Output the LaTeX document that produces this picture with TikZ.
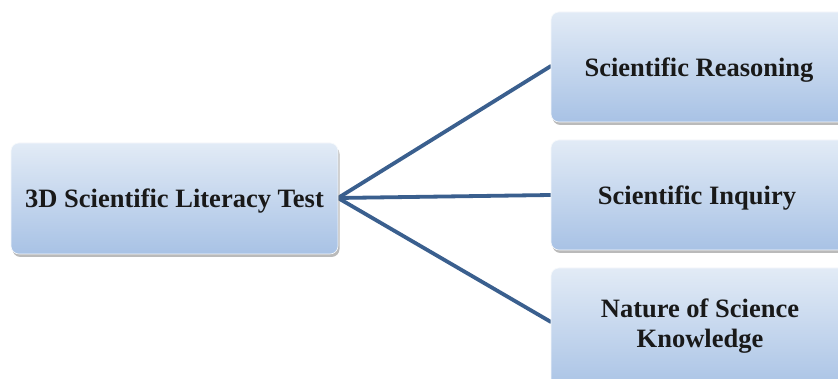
\documentclass[tikz,border=0pt]{standalone}
\usepackage{fontspec}
\setmainfont{Liberation Serif}
\usetikzlibrary{shadows}
\definecolor{boxtop}{HTML}{E2EBF6}
\definecolor{boxbot}{HTML}{A8C2E5}
\definecolor{linkc}{HTML}{3A5F8E}
\tikzset{
  box/.style={rounded corners=8pt, top color=boxtop, bottom color=boxbot,
    draw=white!90!boxbot, line width=0.6pt,
    drop shadow={shadow xshift=1.5pt, shadow yshift=-3pt, opacity=0.45, fill=black!60}},
  lbl/.style={font=\fontsize{26.5}{30}\selectfont\rmfamily\bfseries, text=black!90, align=center},
  link/.style={draw=linkc, line width=3.8pt, line cap=round}
}
\begin{document}
\begin{tikzpicture}[x=1pt,y=-1pt]
\useasboundingbox (0,0) rectangle (838,379);
\clip (0,0) rectangle (838,379);
\fill[white] (0,0) rectangle (838,379);
% links first
\coordinate (src) at (338,198);
\coordinate (t1) at (551,66);
\coordinate (t2) at (551,195);
\coordinate (t3) at (551,322);
\draw[link] (src) -- (t1);
\draw[link] (src) -- (t2);
\draw[link] (src) -- (t3);
% boxes
\path[box] (11,143) rectangle (338,254);
\path[box] (551,12) rectangle (850,122);
\path[box] (551,140) rectangle (850,250);
\path[box] (551,268) rectangle (850,392);
\node[lbl] (root) at (174.5,201.5) {3D Scientific Literacy Test};
\node[lbl] (a) at (699,70.5) {Scientific Reasoning};
\node[lbl] (b) at (697,198.5) {Scientific Inquiry};
\node[lbl] (c) at (700,326.5) {Nature of Science\\Knowledge};
\end{tikzpicture}
\end{document}
